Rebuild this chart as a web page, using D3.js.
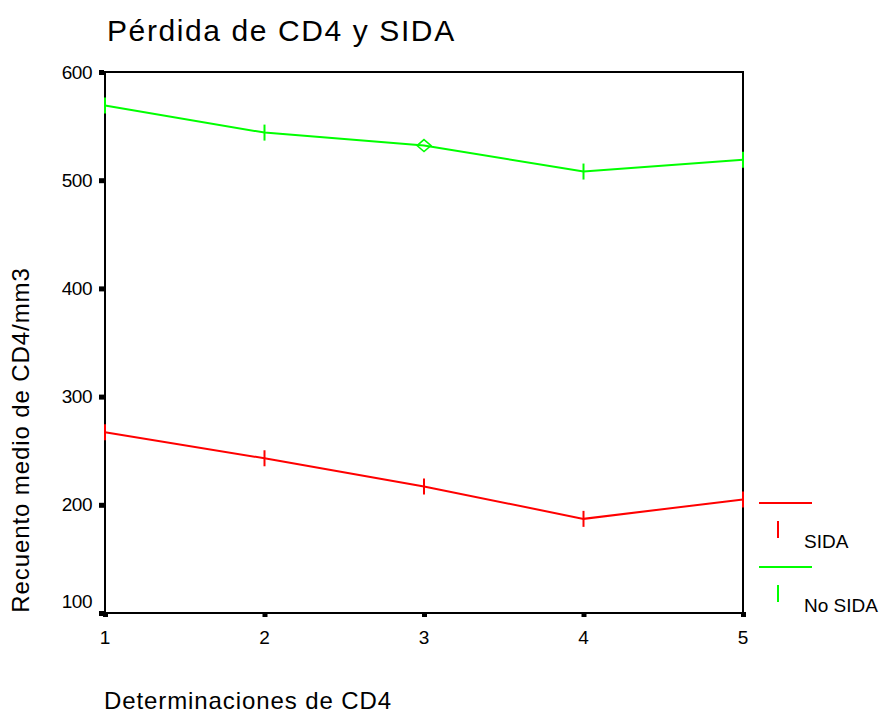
<!DOCTYPE html>
<html>
<head>
<meta charset="utf-8">
<script src="https://cdn.jsdelivr.net/npm/d3@7/dist/d3.min.js"></script>
<style>
  body { margin:0; background:#fff; }
  text { font-family: "Liberation Sans", Arial, sans-serif; fill:#000; }
</style>
</head>
<body>
<svg id="chart" width="882" height="713"></svg>
<script>
// datos
var determinaciones = [1, 2, 3, 4, 5];
var sida = [267, 243, 217, 187, 205];
var noSida = [569, 544, 532, 508, 519];
var yTicks = [100, 200, 300, 400, 500, 600];
var series = [
  {name: "SIDA", values: sida, color: "#ff0000"},
  {name: "No SIDA", values: noSida, color: "#00ff00"}
];

var svg = d3.select("#chart");
var mLeft = 105, mRight = 743, mTop = 72, mBottom = 613;

var x = d3.scaleLinear().domain([1, 5]).range([mLeft, mRight]);
var y = d3.scaleLinear().domain([100, 600]).range([mBottom, mTop]);

// titulo
svg.append("text").attr("x", 107).attr("y", 41)
  .style("font-size", "30px").style("letter-spacing", "1.6px")
  .text("Pérdida de CD4 y SIDA");

// marco
svg.append("rect").attr("x", mLeft).attr("y", mTop)
  .attr("width", mRight - mLeft).attr("height", mBottom - mTop)
  .attr("fill", "none").attr("stroke", "#000").attr("stroke-width", 2);

// eje y
var gy = svg.append("g");
yTicks.forEach(function(d, i) {
  gy.append("rect").attr("x", mLeft - 6).attr("y", y(d) - 2)
    .attr("width", 5).attr("height", 5).attr("fill", "#000");
  gy.append("text").attr("x", 92).attr("y", y(d) + (i == 0 ? -12 : 0))
    .attr("dy", "0.35em").attr("text-anchor", "end")
    .style("font-size", "19px").style("letter-spacing", "-0.5px").text(d);
});

// eje x
var gx = svg.append("g");
determinaciones.forEach(function(d) {
  gx.append("rect").attr("x", x(d) - 2).attr("y", mBottom - 1)
    .attr("width", 5).attr("height", 5).attr("fill", "#000");
  gx.append("text").attr("x", x(d)).attr("y", 644)
    .attr("text-anchor", "middle").style("font-size", "19px").text(d);
});

// titulos de ejes
svg.append("text").attr("x", 104).attr("y", 709)
  .style("font-size", "24px").style("letter-spacing", "0.9px")
  .text("Determinaciones de CD4");
svg.append("text")
  .attr("transform", "translate(29,440) rotate(-90)")
  .attr("text-anchor", "middle")
  .style("font-size", "24px").style("letter-spacing", "0.9px")
  .text("Recuento medio de CD4/mm3");

// lineas
var line = d3.line()
  .x(function(d, i) { return x(determinaciones[i]); })
  .y(function(d) { return y(d); });

series.forEach(function(s) {
  svg.append("path").datum(s.values)
    .attr("d", line).attr("fill", "none")
    .attr("stroke", s.color).attr("stroke-width", 2);

  s.values.forEach(function(v, i) {
    var px = x(determinaciones[i]), py = y(v);
    if (s.name == "No SIDA" && i == 2) {
      // rombo en la tercera determinacion
      svg.append("path")
        .attr("d", "M" + px + "," + (py - 6) + "L" + (px + 7) + "," + py +
                   "L" + px + "," + (py + 6) + "L" + (px - 7) + "," + py + "Z")
        .attr("fill", "none").attr("stroke", s.color).attr("stroke-width", 1.5);
    } else {
      svg.append("line").attr("x1", px).attr("x2", px)
        .attr("y1", py - 8).attr("y2", py + 8)
        .attr("stroke", s.color).attr("stroke-width", 2);
    }
  });
});

// leyenda
series.forEach(function(s, i) {
  var ly = 503 + i * 64;
  svg.append("line").attr("x1", 759).attr("x2", 812)
    .attr("y1", ly).attr("y2", ly)
    .attr("stroke", s.color).attr("stroke-width", 2);
  svg.append("line").attr("x1", 778).attr("x2", 778)
    .attr("y1", ly + 18).attr("y2", ly + 35)
    .attr("stroke", s.color).attr("stroke-width", 2);
  svg.append("text").attr("x", 804).attr("y", ly + 45)
    .style("font-size", "19px").text(s.name);
});
</script>
</body>
</html>
